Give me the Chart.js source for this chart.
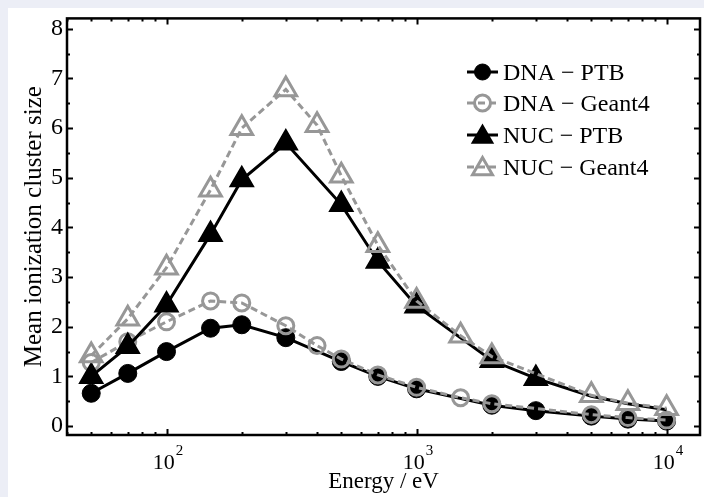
<!DOCTYPE html>
<html>
<head>
<meta charset="utf-8">
<script src="https://cdn.jsdelivr.net/npm/chart.js"></script>
<style>
  html, body { margin: 0; padding: 0; background: #fff; overflow: hidden; }
  #wrap { width: 704px; height: 497px; }
  canvas { display: block; }
</style>
</head>
<body>
<div id="wrap"><canvas id="myChart" width="704" height="497"></canvas></div>
<script>
// energies (eV) and mean cluster sizes
const dnaPtbE   = [50, 70, 100, 150, 200, 300, 500, 700, 1000, 2000, 3000, 5000, 7000, 10000]
const dnaPtb    = [0.66, 1.06, 1.5, 1.97, 2.04, 1.78, 1.3, 1.0, 0.75, 0.42, 0.31, 0.2, 0.14, 0.1]

const dnaGeantE = [50, 70, 100, 150, 200, 300, 400, 500, 700, 1000, 1500, 2000, 5000, 7000, 10000]
const dnaGeant  = [1.28, 1.7, 2.1, 2.52, 2.48, 2.02, 1.62, 1.35, 1.03, 0.78, 0.57, 0.45, 0.23, 0.17, 0.12]

const nucPtbE   = [50, 70, 100, 150, 200, 300, 500, 700, 1000, 2000, 3000, 5000, 7000, 10000]
const nucPtb    = [1.0, 1.6, 2.44, 3.86, 4.96, 5.7, 4.46, 3.32, 2.42, 1.32, 0.96, 0.6, 0.45, 0.33]
const nucPtbMarked = [1, 1, 1, 1, 1, 1, 1, 1, 1, 1, 1, 0, 0, 0]

const nucGeantE = [50, 70, 100, 150, 200, 300, 400, 500, 700, 1000, 1500, 2000, 5000, 7000, 10000]
const nucGeant  = [1.42, 2.16, 3.19, 4.76, 6.0, 6.78, 6.06, 5.04, 3.64, 2.52, 1.82, 1.4, 0.62, 0.46, 0.36]

const legendLabels = ['DNA \u2212 PTB', 'DNA \u2212 Geant4', 'NUC \u2212 PTB', 'NUC \u2212 Geant4']
const yTicks = [0, 1, 2, 3, 4, 5, 6, 7, 8]
const xTickValues = [100, 1000, 10000]
const xTickExp = ['2', '3', '4']

const GRAY = '#979797'
const SERIF = '"Liberation Serif", "Times New Roman", serif'

Chart.defaults.font.family = SERIF
Chart.defaults.color = '#000'

function pts(xs, ys) {
  return xs.map((e, i) => ({ x: e, y: ys[i] }))
}

function marker(ctx, style, r, x, y, fill, stroke, bw) {
  ctx.beginPath()
  if (style == 'circle') {
    ctx.arc(x, y, r, 0, Math.PI * 2)
  } else {
    for (let k = 0; k < 3; k++) {
      let a = k * Math.PI * 2 / 3
      let px = x + Math.sin(a) * r, py = y - Math.cos(a) * r
      if (k == 0) ctx.moveTo(px, py)
      else ctx.lineTo(px, py)
    }
    ctx.closePath()
  }
  if (fill) { ctx.fillStyle = fill; ctx.fill() }
  ctx.lineWidth = bw
  ctx.strokeStyle = stroke
  ctx.stroke()
}

const legendOrder = [0, 1, 2, 3]

const framePlugin = {
  id: 'frame',
  beforeDraw(chart) {
    let ctx = chart.ctx
    ctx.save()
    ctx.fillStyle = '#eceef6'
    ctx.fillRect(0, 0, chart.width, chart.height)
    ctx.fillStyle = '#fff'
    ctx.fillRect(8, 8, chart.width - 8, chart.height - 8)
    ctx.restore()
  },
  afterDraw(chart) {
    let ctx = chart.ctx
    let a = chart.chartArea
    let xs = chart.scales.x, ys = chart.scales.y
    ctx.save()
    ctx.strokeStyle = '#000'
    ctx.lineWidth = 2

    // inward ticks, y axis (left and right)
    for (let v = 0; v <= 8; v += 0.5) {
      let py = Math.round(ys.getPixelForValue(v)) + 0.5
      let len = (v % 1 == 0) ? 6 : 3
      ctx.beginPath()
      ctx.moveTo(a.left, py); ctx.lineTo(a.left + len, py)
      ctx.moveTo(a.right, py); ctx.lineTo(a.right - len, py)
      ctx.stroke()
    }
    // inward ticks, log x axis (bottom and top)
    for (let dec = 10; dec <= 10000; dec *= 10) {
      for (let m = 1; m < 10; m++) {
        let v = m * dec
        if (v < xs.min || v > xs.max) continue
        let px = Math.round(xs.getPixelForValue(v)) + 0.5
        let len = (m == 1) ? 6 : 3
        ctx.beginPath()
        ctx.moveTo(px, a.bottom); ctx.lineTo(px, a.bottom - len)
        ctx.moveTo(px, a.top); ctx.lineTo(px, a.top + len)
        ctx.stroke()
      }
    }
    // box
    ctx.lineWidth = 2.5
    ctx.strokeRect(a.left, a.top, a.right - a.left, a.bottom - a.top)

    // x tick labels 10^n
    ctx.fillStyle = '#000'
    ctx.textBaseline = 'alphabetic'
    xTickValues.forEach((v, i) => {
      let px = xs.getPixelForValue(v)
      ctx.font = '22px ' + SERIF
      let w1 = ctx.measureText('10').width
      ctx.font = '15px ' + SERIF
      let w2 = ctx.measureText(xTickExp[i]).width
      let x0 = px - (w1 + w2) / 2 + 1
      ctx.font = '22px ' + SERIF
      ctx.fillText('10', x0, 469)
      ctx.font = '15px ' + SERIF
      ctx.fillText(xTickExp[i], x0 + w1 + 1, 455)
    })

    // legend
    let rows = [72, 103, 135, 167]
    let sets = chart.data.datasets
    legendOrder.forEach((di, i) => {
      let ds = sets[di]
      let y = rows[i]
      ctx.save()
      ctx.strokeStyle = ds.borderColor
      ctx.lineWidth = ds.borderWidth
      ctx.setLineDash(ds.borderDash || [])
      ctx.beginPath()
      ctx.moveTo(467, y); ctx.lineTo(498, y)
      ctx.stroke()
      ctx.setLineDash([])
      let r = ds.pointStyle == 'circle' ? 8 : 11.5
      let fill = ds.pointBackgroundColor == 'transparent' ? null : ds.pointBackgroundColor
      marker(ctx, ds.pointStyle, r, 482.5, ds.pointStyle == 'circle' ? y : y + 2, fill, ds.pointBorderColor, ds.pointBorderWidth)
      ctx.restore()
      ctx.font = '24px ' + SERIF
      ctx.fillStyle = '#000'
      ctx.fillText(ds.label, 503, y + 8)
    })
    ctx.restore()
  }
}

let canvas = document.getElementById('myChart')
let ctx = canvas.getContext('2d')

let myLineChart = new Chart(ctx, {
  type: 'line',
  data: {
    datasets: [{
      label: legendLabels[0],
      data: pts(dnaPtbE, dnaPtb),
      borderColor: '#000',
      borderWidth: 3,
      pointStyle: 'circle',
      pointRadius: 9,
      pointBackgroundColor: '#000',
      pointBorderColor: '#000',
      pointBorderWidth: 1,
      order: 4
    }, {
      label: legendLabels[1],
      data: pts(dnaGeantE, dnaGeant),
      borderColor: GRAY,
      borderWidth: 3,
      borderDash: [7, 4],
      pointStyle: 'circle',
      pointRadius: 8,
      pointBackgroundColor: 'transparent',
      pointBorderColor: GRAY,
      pointBorderWidth: 3,
      order: 3
    }, {
      label: legendLabels[2],
      data: pts(nucPtbE, nucPtb),
      borderColor: '#000',
      borderWidth: 3,
      pointStyle: 'triangle',
      pointRadius: nucPtbMarked.map(m => m ? 13 : 0),
      pointBackgroundColor: '#000',
      pointBorderColor: '#000',
      pointBorderWidth: 2,
      order: 2
    }, {
      label: legendLabels[3],
      data: pts(nucGeantE, nucGeant),
      borderColor: GRAY,
      borderWidth: 3,
      borderDash: [7, 4],
      pointStyle: 'triangle',
      pointRadius: 12.5,
      pointBackgroundColor: 'transparent',
      pointBorderColor: GRAY,
      pointBorderWidth: 3,
      order: 1
    }]
  },
  options: {
    responsive: false,
    animation: false,
    devicePixelRatio: 1,
    layout: { autoPadding: false, padding: { top: 17, right: 4, left: 0, bottom: 0 } },
    elements: { line: { tension: 0 } },
    plugins: { legend: { display: false }, tooltip: { enabled: false } },
    scales: {
      x: {
        type: 'logarithmic',
        min: 40,
        max: 13600,
        grid: { display: false, drawTicks: false },
        border: { display: false },
        ticks: { display: false },
        title: {
          display: true,
          text: 'Energy / eV',
          font: { size: 23 },
          padding: { top: 0, bottom: 1 }
        },
        afterFit: s => { s.height = 62 }
      },
      y: {
        type: 'linear',
        min: -0.18,
        max: 8.21,
        afterBuildTicks: s => { s.ticks = yTicks.map(v => ({ value: v })) },
        grid: { display: false, drawTicks: false },
        border: { display: false },
        ticks: { font: { size: 24 }, padding: 4, color: '#000' },
        title: {
          display: true,
          text: 'Mean ionization cluster size',
          font: { size: 25 },
          padding: { top: 19, bottom: 0 }
        },
        afterFit: s => { s.width = 67 }
      }
    }
  },
  plugins: [framePlugin]
})
</script>
</body>
</html>
